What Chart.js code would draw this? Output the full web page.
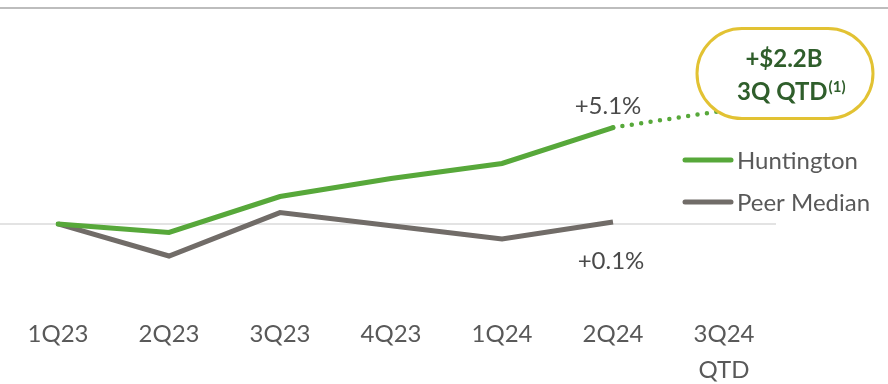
<!DOCTYPE html>
<html>
<head>
<meta charset="utf-8">
<title>Huntington vs Peer Median</title>
<script src="https://cdn.jsdelivr.net/npm/chart.js@4.4.1/dist/chart.umd.min.js"></script>
<style>
  html, body { margin: 0; padding: 0; background: #fff; }
  #wrap { width: 888px; height: 384px; position: relative; }
</style>
</head>
<body>
<div id="wrap"><canvas id="myChart" width="888" height="384"></canvas></div>
<script>
// quarters along the x axis
const quarters = ['1Q23', '2Q23', '3Q23', '4Q23', '1Q24', '2Q24', ['3Q24', 'QTD']];
// cumulative change, %
const huntington = [0, -0.45, 1.45, 2.4, 3.2, 5.1, 6.0];
const peerMedian = [0, -1.7, 0.6, -0.1, -0.8, 0.1, null];
const endLabels = ['+5.1%', '+0.1%'];
const calloutLines = ['+$2.2B', '3Q QTD'];

const GREEN = '#57A83A';
const GREY = '#716C68';
const FONT = 'Lato, "Open Sans", sans-serif';

// annotation, legend and guide lines drawn on top of the chart
const extras = {
  id: 'extras',
  beforeDatasetsDraw(chart) {
    const c = chart.ctx;
    const y = chart.scales.y;
    c.save();
    c.strokeStyle = '#BDBDBD';
    c.lineWidth = 2;
    c.beginPath(); c.moveTo(0, 8); c.lineTo(888, 8); c.stroke();
    c.strokeStyle = '#DADADA';
    c.lineWidth = 1.5;
    const y0 = y.getPixelForValue(0);
    c.beginPath(); c.moveTo(0, y0); c.lineTo(776, y0); c.stroke();
    c.restore();
  },
  afterDatasetsDraw(chart) {
    const c = chart.ctx;
    const hPts = chart.getDatasetMeta(0).data;
    const pPts = chart.getDatasetMeta(1).data;
    c.save();
    // end-value labels
    c.font = '24px ' + FONT;
    c.fillStyle = '#4A4A4A';
    c.textAlign = 'center';
    c.textBaseline = 'middle';
    c.fillText(endLabels[0], hPts[5].x - 5, hPts[5].y - 21);
    c.fillText(endLabels[1], pPts[5].x - 2, pPts[5].y + 39);

    // callout bubble over the QTD point
    const last = hPts[6];
    const bx = last.x - 27, by = last.y - 82, bw = 176, bh = 90;
    c.beginPath();
    c.roundRect(bx, by, bw, bh, bh / 2);
    c.fillStyle = '#fff';
    c.fill();
    c.lineWidth = 3;
    c.strokeStyle = '#E2C233';
    c.stroke();
    c.fillStyle = '#2F5E2B';
    c.font = 'bold 24px ' + FONT;
    c.fillText(calloutLines[0], bx + 87, by + 31);
    c.textAlign = 'left';
    const w2 = c.measureText(calloutLines[1]).width;
    const sx = bx + 40;
    c.fillText(calloutLines[1], sx, by + 64);
    c.font = 'bold 15px ' + FONT;
    c.fillText('(1)', sx + w2 + 1, by + 59);

    // legend
    const items = [[chart.data.datasets[0], 160], [chart.data.datasets[1], 202]];
    items.forEach(([ds, ly]) => {
      c.strokeStyle = ds.borderColor;
      c.lineWidth = 5;
      c.lineCap = 'round';
      c.beginPath(); c.moveTo(685, ly); c.lineTo(731, ly); c.stroke();
      c.fillStyle = '#595959';
      c.font = '24px ' + FONT;
      c.textAlign = 'left';
      c.fillText(ds.label, 737, ly + 1);
    });
    c.restore();
  }
};

const ctx = document.getElementById('myChart').getContext('2d');
const myChart = new Chart(ctx, {
  type: 'line',
  data: {
    labels: quarters,
    datasets: [{
      label: 'Huntington',
      data: huntington,
      borderColor: GREEN,
      borderWidth: 5,
      borderCapStyle: 'round',
      pointRadius: 0,
      tension: 0,
      segment: {
        borderDash: s => s.p1DataIndex === 6 ? [0, 9.5] : undefined,
        borderWidth: s => s.p1DataIndex === 6 ? 4.5 : undefined
      }
    }, {
      label: 'Peer Median',
      data: peerMedian,
      borderColor: GREY,
      borderWidth: 5,
      pointRadius: 0,
      tension: 0
    }]
  },
  options: {
    responsive: false,
    animation: false,
    layout: { padding: { left: 58, right: 164, top: 35, bottom: -8 } },
    plugins: { legend: { display: false }, tooltip: { enabled: false } },
    scales: {
      x: {
        offset: false,
        grid: { display: false },
        border: { display: false },
        ticks: {
          color: '#595959',
          font: { family: FONT, size: 24, lineHeight: 1.5 },
          padding: 4,
          maxRotation: 0,
          autoSkip: false
        }
      },
      y: {
        display: false,
        min: -4.24,
        max: 10
      }
    }
  },
  plugins: [extras]
});
</script>
</body>
</html>
